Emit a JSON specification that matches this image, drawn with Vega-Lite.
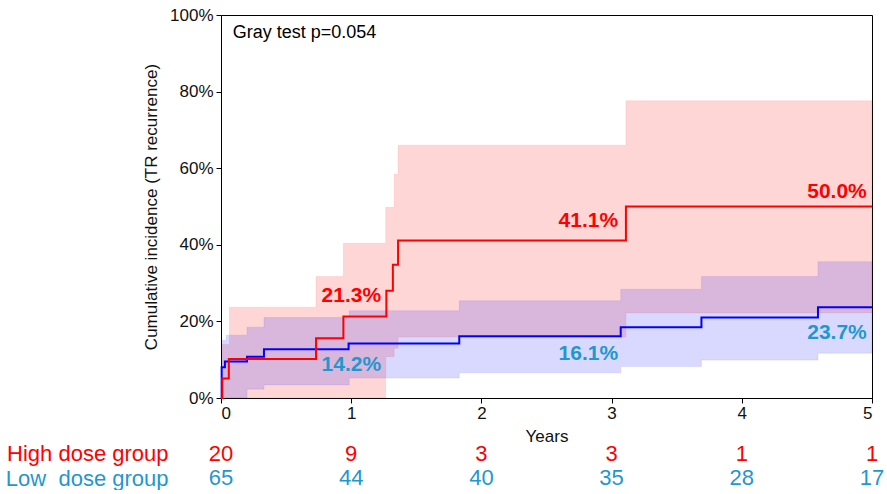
{
  "$schema": "https://vega.github.io/schema/vega-lite/v6.json",
  "padding": {"left": 5, "top": 5, "right": 5, "bottom": 0},
  "background": "white",
  "config": {
    "font": "Liberation Sans",
    "view": {"stroke": "#000000", "strokeWidth": 1},
    "axis": {"grid": false, "domainColor": "#000000", "tickColor": "#000000", "labelColor": "#111111", "titleColor": "#111111", "titleFontWeight": "normal"}
  },
  "datasets": {
    "lines": [
      {"group": "High", "t": 0, "ci": 0},
      {"group": "High", "t": 0.01, "ci": 5.1},
      {"group": "High", "t": 0.06, "ci": 10.2},
      {"group": "High", "t": 0.73, "ci": 15.6},
      {"group": "High", "t": 0.94, "ci": 21.3},
      {"group": "High", "t": 1.27, "ci": 28.0},
      {"group": "High", "t": 1.32, "ci": 34.8},
      {"group": "High", "t": 1.36, "ci": 41.1},
      {"group": "High", "t": 3.11, "ci": 50.0},
      {"group": "High", "t": 5, "ci": 50.0},
      {"group": "Low", "t": 0, "ci": 0},
      {"group": "Low", "t": 0.005, "ci": 8.0},
      {"group": "Low", "t": 0.03, "ci": 9.5},
      {"group": "Low", "t": 0.2, "ci": 10.8},
      {"group": "Low", "t": 0.33, "ci": 12.7},
      {"group": "Low", "t": 0.98, "ci": 14.2},
      {"group": "Low", "t": 1.83, "ci": 16.1},
      {"group": "Low", "t": 3.07, "ci": 18.5},
      {"group": "Low", "t": 3.69, "ci": 21.0},
      {"group": "Low", "t": 4.585, "ci": 23.7},
      {"group": "Low", "t": 5, "ci": 23.7}
    ],
    "bands": [
      {"group": "High", "t": 0, "lo": 0, "hi": 0},
      {"group": "High", "t": 0.01, "lo": 0, "hi": 14.0},
      {"group": "High", "t": 0.065, "lo": 0, "hi": 23.7},
      {"group": "High", "t": 0.73, "lo": 0, "hi": 31.7},
      {"group": "High", "t": 0.94, "lo": 0, "hi": 40.4},
      {"group": "High", "t": 1.265, "lo": 10.8, "hi": 49.8},
      {"group": "High", "t": 1.33, "lo": 13.0, "hi": 58.4},
      {"group": "High", "t": 1.36, "lo": 15.9, "hi": 66.0},
      {"group": "High", "t": 3.11, "lo": 22.2, "hi": 77.6},
      {"group": "High", "t": 5, "lo": 22.2, "hi": 77.6},
      {"group": "Low", "t": 0, "lo": 0, "hi": 0},
      {"group": "Low", "t": 0.005, "lo": 0, "hi": 15.1},
      {"group": "Low", "t": 0.04, "lo": 0, "hi": 16.4},
      {"group": "Low", "t": 0.2, "lo": 2.3, "hi": 18.5},
      {"group": "Low", "t": 0.33, "lo": 3.4, "hi": 21.0},
      {"group": "Low", "t": 0.985, "lo": 5.2, "hi": 22.8},
      {"group": "Low", "t": 1.83, "lo": 6.6, "hi": 25.4},
      {"group": "Low", "t": 3.07, "lo": 8.2, "hi": 28.4},
      {"group": "Low", "t": 3.69, "lo": 9.9, "hi": 31.7},
      {"group": "Low", "t": 4.585, "lo": 11.7, "hi": 35.6},
      {"group": "Low", "t": 5, "lo": 11.7, "hi": 35.6}
    ],
    "labels": [
      {"group": "High", "t": 1.23, "y": 26.6, "label": "21.3%"},
      {"group": "High", "t": 3.05, "y": 46.1, "label": "41.1%"},
      {"group": "High", "t": 4.96, "y": 53.9, "label": "50.0%"},
      {"group": "Low", "t": 1.23, "y": 8.5, "label": "14.2%"},
      {"group": "Low", "t": 3.05, "y": 11.4, "label": "16.1%"},
      {"group": "Low", "t": 4.96, "y": 16.9, "label": "23.7%"}
    ],
    "note": [
      {"t": 0.09, "y": 95.3, "label": "Gray test p=0.054"}
    ],
    "risk": [
      {"row": "High dose group", "t": 0, "n": 20},
      {"row": "High dose group", "t": 1, "n": 9},
      {"row": "High dose group", "t": 2, "n": 3},
      {"row": "High dose group", "t": 3, "n": 3},
      {"row": "High dose group", "t": 4, "n": 1},
      {"row": "High dose group", "t": 5, "n": 1},
      {"row": "Low\u00a0 dose group", "t": 0, "n": 65},
      {"row": "Low\u00a0 dose group", "t": 1, "n": 44},
      {"row": "Low\u00a0 dose group", "t": 2, "n": 40},
      {"row": "Low\u00a0 dose group", "t": 3, "n": 35},
      {"row": "Low\u00a0 dose group", "t": 4, "n": 28},
      {"row": "Low\u00a0 dose group", "t": 5, "n": 17}
    ]
  },
  "spacing": -3,
  "vconcat": [
    {
      "width": 651,
      "height": 383,
      "encoding": {
        "x": {"field": "t", "type": "quantitative", "scale": {"domain": [0, 5], "nice": false, "zero": false},
          "axis": {"title": "Years", "values": [0, 1, 2, 3, 4, 5], "format": "d", "tickSize": 5, "labelFontSize": 17, "titleFontSize": 17, "labelPadding": 2, "titlePadding": 7}}
      },
      "layer": [
        {
          "data": {"name": "bands"},
          "transform": [{"filter": "datum.group === 'High'"}],
          "mark": {"type": "area", "interpolate": "step-after", "color": "#ff0000", "fillOpacity": 0.16, "stroke": "#ff0000", "strokeOpacity": 0.08, "strokeWidth": 1},
          "encoding": {
            "y": {"field": "hi", "type": "quantitative", "scale": {"domain": [0, 100], "nice": false},
              "axis": {"title": "Cumulative incidence (TR recurrence)", "values": [0, 20, 40, 60, 80, 100], "labelExpr": "datum.value + '%'", "tickSize": 5, "labelFontSize": 17, "titleFontSize": 17, "labelPadding": 3, "titlePadding": 9}},
            "y2": {"field": "lo"}
          }
        },
        {
          "data": {"name": "bands"},
          "transform": [{"filter": "datum.group === 'Low'"}],
          "mark": {"type": "area", "interpolate": "step-after", "color": "#0000ff", "fillOpacity": 0.15, "stroke": "#0000ff", "strokeOpacity": 0.08, "strokeWidth": 1},
          "encoding": {
            "y": {"field": "hi", "type": "quantitative"},
            "y2": {"field": "lo"}
          }
        },
        {
          "data": {"name": "lines"},
          "transform": [{"filter": "datum.group === 'Low'"}],
          "mark": {"type": "line", "interpolate": "step-after", "color": "#0000ff", "strokeWidth": 2},
          "encoding": {"y": {"field": "ci", "type": "quantitative"}}
        },
        {
          "data": {"name": "lines"},
          "transform": [{"filter": "datum.group === 'High'"}],
          "mark": {"type": "line", "interpolate": "step-after", "color": "#ff0000", "strokeWidth": 2},
          "encoding": {"y": {"field": "ci", "type": "quantitative"}}
        },
        {
          "data": {"name": "labels"},
          "mark": {"type": "text", "align": "right", "baseline": "middle", "fontSize": 21, "fontWeight": "bold"},
          "encoding": {
            "y": {"field": "y", "type": "quantitative"},
            "text": {"field": "label"},
            "color": {"condition": {"test": "datum.group === 'High'", "value": "#ff0000"}, "value": "#1f97cf"}
          }
        },
        {
          "data": {"name": "note"},
          "mark": {"type": "text", "align": "left", "baseline": "middle", "fontSize": 18, "color": "#000000"},
          "encoding": {
            "y": {"field": "y", "type": "quantitative"},
            "text": {"field": "label"}
          }
        }
      ]
    },
    {
      "width": 651,
      "height": 40,
      "view": {"stroke": null},
      "data": {"name": "risk"},
      "mark": {"type": "text", "align": "center", "baseline": "middle", "fontSize": 22},
      "encoding": {
        "x": {"field": "t", "type": "quantitative", "scale": {"domain": [0, 5], "nice": false, "zero": false}, "axis": null},
        "y": {"field": "row", "type": "nominal", "scale": {"type": "point", "padding": 0.33, "domain": ["High dose group", "Low\u00a0 dose group"]},
          "axis": {"title": null, "domain": false, "ticks": false, "labelPadding": 53, "labelFontSize": 22,
            "labelColor": {"condition": {"test": "datum.value === 'High dose group'", "value": "#ff0000"}, "value": "#1f97cf"}}},
        "text": {"field": "n", "type": "quantitative"},
        "color": {"condition": {"test": "datum.row === 'High dose group'", "value": "#ff0000"}, "value": "#1f97cf"}
      }
    }
  ]
}
